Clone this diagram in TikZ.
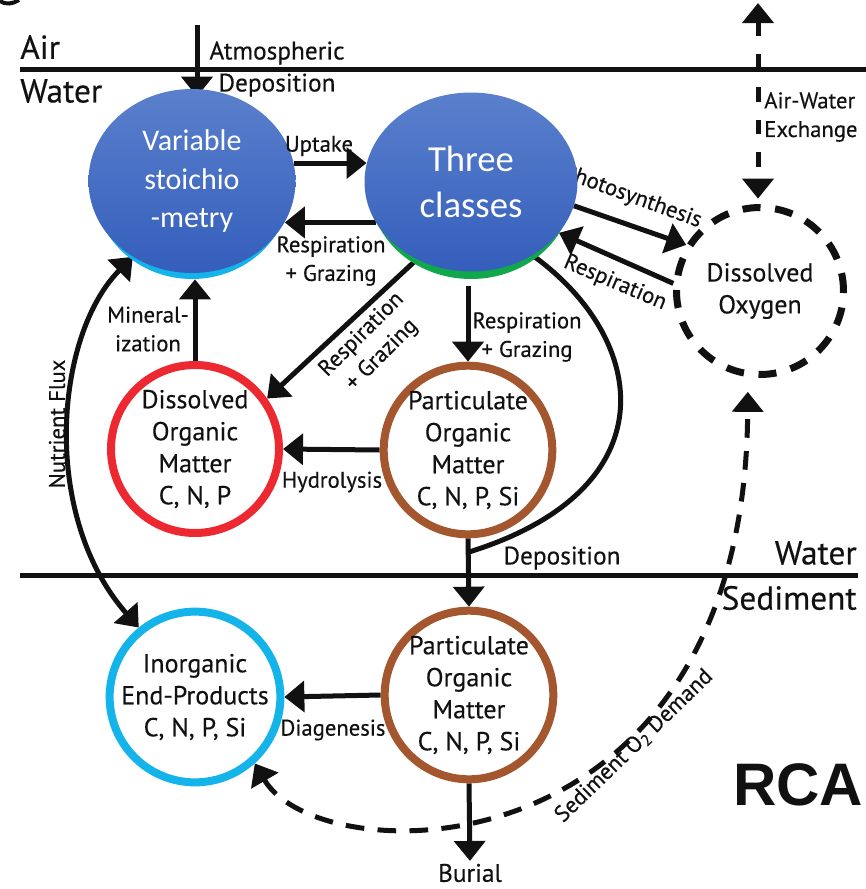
\documentclass[tikz,border=0pt]{standalone}
\usepackage{fontspec}
\setmainfont{PT Sans}[FakeBold=0.35]
\newfontfamily\calfont{Carlito}
\newfontfamily\heavyfont{Liberation Sans}
\usetikzlibrary{arrows.meta,shapes.geometric,calc}
\pgfdeclarelayer{background}
\pgfsetlayers{background,main}

\definecolor{ink}{HTML}{111111}
\definecolor{domred}{HTML}{EC2830}
\definecolor{pombrown}{HTML}{A4572E}
\definecolor{iepcyan}{HTML}{14B4EA}
\definecolor{algaegreen}{HTML}{10A84A}
\definecolor{bluetop}{HTML}{5A80CC}
\definecolor{bluebot}{HTML}{345EBB}

\begin{document}
\begin{tikzpicture}[x=0.75pt,y=-0.75pt,
  flow/.style={line width=3.75pt, draw=ink},
  arr/.style={flow, -{Triangle[width=23pt,length=15pt]}},
  biarr/.style={flow, {Triangle[width=23pt,length=15pt]}-{Triangle[width=23pt,length=15pt]}},
  dsh/.style={dash pattern=on 14pt off 10pt},
  lbl/.style={font=\fontsize{17}{21.5}\selectfont, text=ink, align=center, inner sep=0pt},
  lblbig/.style={lbl, font=\fontsize{19}{24}\selectfont},
  region/.style={font=\fontsize{25}{28}\selectfont, text=ink, inner sep=0pt},
  pool/.style={circle, minimum size=126pt, line width=6pt, inner sep=0pt, align=center,
    text=ink, font=\fontsize{19.5}{24}\selectfont},
  algae/.style={ellipse, inner sep=0pt, text=white, align=center, top color=bluetop, bottom color=bluebot},
  rim/.style={ellipse, inner sep=0pt}
]
\useasboundingbox (0,0) rectangle (866,889);

% cut-off glyph in the corner
\draw[line width=3pt, ink] (0,1) .. controls (5,5) and (13,4) .. (19,0);

% phytoplankton pools
\node[rim, fill=iepcyan, minimum width=147pt, minimum height=138pt] (vsrim) at (192,187) {};
\node[algae, minimum width=155.25pt, minimum height=138pt, font=\calfont\fontsize{22.5}{29}\selectfont]
  (vs) at (192,181) {Variable\\stoichio\\-metry};
\node[rim, fill=algaegreen, minimum width=151.5pt, minimum height=134.25pt] (tcrim) at (471,189.5) {};
\node[algae, minimum width=159.75pt, minimum height=134.25pt, font=\calfont\fontsize{27.5}{34}\selectfont]
  (tc) at (471,182) {Three\\classes};

% matter pools
\node[pool, draw=domred] (dom) at (195,449) {Dissolved\\Organic\\Matter\\C, N, P};
\node[pool, draw=pombrown] (pomw) at (468,450) {Particulate\\Organic\\Matter\\C, N, P, Si};
\node[pool, draw=pombrown] (poms) at (469,695) {Particulate\\Organic\\Matter\\C, N, P, Si};
\node[pool, draw=iepcyan] (iep) at (195,697) {Inorganic\\End-Products\\C, N, P, Si};
\node[pool, draw=ink, line width=5.25pt, minimum size=125.25pt, dash pattern=on 13.5pt off 11pt]
  (do) at (760,291) {Dissolved\\Oxygen};

% interface labels
\node[region, anchor=west] (air) at (20,47) {Air};
\node[region, anchor=west] (watertop) at (20,91) {Water};
\node[region, anchor=east] (waterbot) at (857,553) {Water};
\node[region, anchor=east] (sed) at (857,598) {Sediment};

% process labels
\node[lblbig] (atmlbl) at (277,69) {Atmospheric\\Deposition};
\node[lbl] (uplbl) at (319,146) {Uptake};
\node[lbl] (rg1) at (331,261) {Respiration\\+ Grazing};
\node[lbl, rotate=-23] (resplbl) at (615,283) {Respiration};
\node[lbl, align=left, anchor=west] (awlbl) at (764,117) {Air-Water\\Exchange};
\node[lbl, rotate=45] (rg2) at (372,345) {Respiration\\+ Grazing};
\node[lbl] (rg3) at (527,337) {Respiration\\+ Grazing};
\node[lbl] (minlbl) at (148,329) {Mineral-\\ization};
\node[lbl] (hydlbl) at (332,482) {Hydrolysis};
\node[lbl, rotate=90] (nflbl) at (57,424) {Nutrient Flux};
\node[lblbig] (deplbl) at (562,558) {Deposition};
\node[lbl] (diaglbl) at (333,730) {Diagenesis};
\node[lblbig] (burial) at (470,873) {Burial};
\node[lbl, rotate=44] (sodlbl) at (634,746) {Sediment O\textsubscript{2} Demand};
\node[font=\heavyfont\bfseries\fontsize{45}{50}\selectfont, text=ink, inner sep=0pt] (rca) at (798,785) {RCA};

% helper points
\coordinate (awl) at (20,69.5);
\coordinate (awr) at (866,69.5);
\coordinate (wsl) at (20,575);
\coordinate (wsr) at (858,575);
\coordinate (atmsrc) at (197,25);
\coordinate (atmend) at ([yshift=-6pt]atmsrc |- vs.north);
\coordinate (awx) at (758,3);
\coordinate (tcb) at ([yshift=-11pt]tc.south);
\coordinate (dep) at ([yshift=-10.5pt]pomw.south);

\begin{pgfonlayer}{background}
  \node[lbl, rotate=-20] (photolbl) at (632,197) {Photosynthesis};
  % interfaces
  \draw[flow] (awl) -- (awr);
  \draw[flow] (wsl) -- (wsr);
  % fluxes
  \draw[arr] (atmsrc) -- (atmend);
  \draw[arr] (vs.10) -- (vs.10 -| tc.170);
  \draw[arr] (tc.203) -- (tc.203 -| vs.-24);
  \draw[arr] (tc.-13) -- (do.148);
  \draw[arr] (do.175) -- (tc.-30);
  \draw[biarr, dsh, dash pattern=on 11pt off 13.5pt, shorten >=4pt] (awx) -- (awx |- do.north);
  \draw[arr] (tc.235) -- (dom.35);
  \draw[arr] (tcb -| pomw.north) -- (pomw.north);
  \draw[flow] (tc.-50) .. controls (650,340) and (670,490) .. (dep);
  \draw[arr] (pomw.south) -- (poms.north);
  \draw[arr] (dom.north) -- (dom.north |- vsrim.south);
  \draw[arr] (pomw.west) -- (dom.east);
  \draw[biarr] (vs.232) .. controls (55,335) and (40,515) .. (iep.129);
  \draw[arr] (poms.west) -- (iep.east);
  \draw[arr] (poms.south) -- ([yshift=2pt]burial.north);
  \draw[biarr, dsh, shorten >=11pt] (iep.-48) .. controls (320,875) and (745,880) .. (do.262);
\end{pgfonlayer}
\end{tikzpicture}
\end{document}
